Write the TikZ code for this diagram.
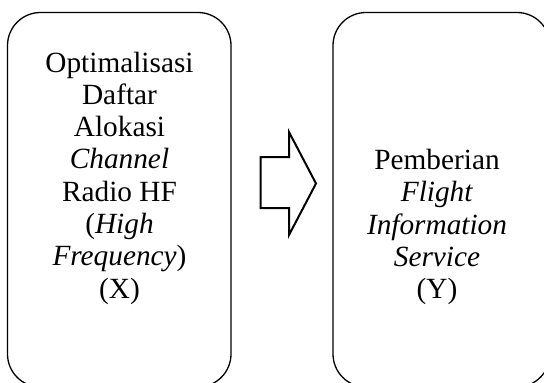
\documentclass[tikz,border=0pt]{standalone}
\usepackage{fontspec}
\setmainfont{Liberation Serif}
\begin{document}
\begin{tikzpicture}[x=1pt,y=-1pt,
  panel/.style={draw=black, line width=1.3pt, rounded corners=33pt},
  paneltext/.style={align=center, inner sep=0pt,
    font=\fontsize{29.3}{32.3}\selectfont},
  blockarrow/.style={draw=black, line width=2pt, line join=miter}]
  \useasboundingbox (0,0) rectangle (544,383);
  \clip (0,0) rectangle (544,383);
  % two rounded panels
  \draw[panel] (7.5,12.5) rectangle (231,387);
  \draw[panel] (333,12.5) rectangle (550,387);
  % panel labels
  \node[paneltext] (left) at (119.5,178)
    {Optimalisasi\\Daftar\\Alokasi\\\textit{Channel}\\Radio HF\\(\textit{High}\\\textit{Frequency})\\(X)};
  \node[paneltext] (right) at (437,227)
    {Pemberian\\\textit{Flight}\\\textit{Information}\\\textit{Service}\\(Y)};
  % hollow block arrow between the panels
  \draw[blockarrow] (260.7,157) -- (289,157) -- (289,132) -- (316,183.5)
    -- (289,235) -- (289,208) -- (260.7,208) -- cycle;
\end{tikzpicture}
\end{document}
